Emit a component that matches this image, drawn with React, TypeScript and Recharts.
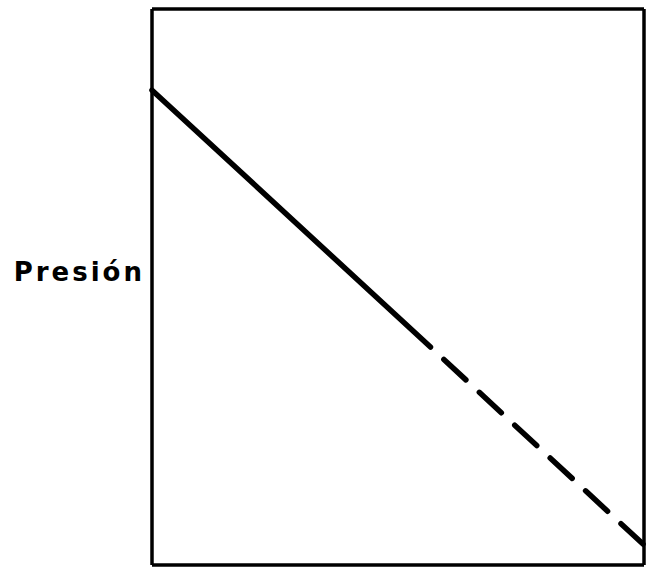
import React from 'react';
import { LineChart, Line, XAxis, YAxis } from 'recharts';

const volumen = [0, 0.566, 1];
const presionMedida = [0.854, 0.392, null];
const presionExtrapolada = [null, 0.392, 0.036];

const data = volumen.map((v, i) => ({
  v,
  medida: presionMedida[i],
  extrapolada: presionExtrapolada[i],
}));

const axisLine = { stroke: '#000', strokeWidth: 3.5 };

export default function App() {
  return (
    <div style={{ position: 'absolute', left: 0, top: 0, width: 646, height: 568, background: '#fff' }}>
      <LineChart width={646} height={568} data={data} margin={{ top: 8, right: 1, bottom: 2, left: 151 }}>
        <XAxis dataKey="v" type="number" domain={[0, 1]} xAxisId="b" orientation="bottom" height={1} tick={false} tickLine={false} axisLine={axisLine} />
        <XAxis dataKey="v" type="number" domain={[0, 1]} xAxisId="t" orientation="top" height={1} tick={false} tickLine={false} axisLine={axisLine} />
        <YAxis yAxisId="l" type="number" domain={[0, 1]} width={1} tick={false} tickLine={false} axisLine={axisLine}
          label={{ value: 'Presión', position: 'left', offset: 6, dy: -15, fill: '#000', fontSize: 26, fontWeight: 'bold', fontFamily: 'DejaVu Sans', letterSpacing: 3 }} />
        <YAxis yAxisId="r" orientation="right" type="number" domain={[0, 1]} width={1} tick={false} tickLine={false} axisLine={axisLine} />
        <Line xAxisId="b" yAxisId="l" dataKey="medida" type="linear" stroke="#000" strokeWidth={5.5} dot={false} isAnimationActive={false} connectNulls={false} strokeLinecap="round" />
        <Line xAxisId="b" yAxisId="l" dataKey="extrapolada" type="linear" stroke="#000" strokeWidth={5.5} strokeDasharray="30 18.3" strokeDashoffset={30} dot={false} isAnimationActive={false} connectNulls={false} strokeLinecap="round" />
      </LineChart>
    </div>
  );
}
